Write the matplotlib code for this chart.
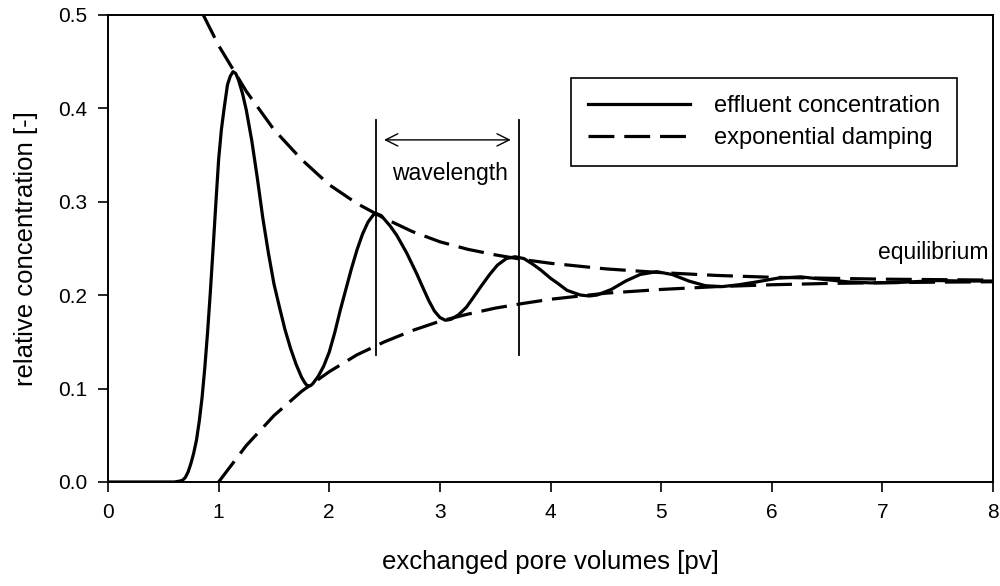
import numpy as np
import matplotlib.pyplot as plt

plt.rcParams['font.family'] = ['Liberation Sans', 'DejaVu Sans']

# effluent concentration
pv = [0.0, 0.30, 0.60, 0.65, 0.675, 0.70, 0.725, 0.75, 0.775, 0.80, 0.825, 0.85,
      0.875, 0.90, 0.925, 0.95, 0.975, 1.00, 1.025, 1.05, 1.08, 1.105,
      1.13, 1.155, 1.18, 1.215, 1.25, 1.30, 1.35, 1.40, 1.45, 1.50, 1.55, 1.60,
      1.65, 1.70, 1.75, 1.78, 1.80, 1.83, 1.85, 1.90, 1.95, 2.00, 2.05, 2.10,
      2.15, 2.20, 2.25, 2.30, 2.35, 2.40, 2.43, 2.47, 2.55, 2.61, 2.70, 2.79,
      2.85, 2.90, 2.95, 3.00, 3.05, 3.10, 3.17, 3.24, 3.30, 3.37, 3.45, 3.52,
      3.60, 3.68, 3.76, 3.84, 3.91, 4.00, 4.06, 4.15, 4.27, 4.35, 4.42, 4.55,
      4.68, 4.81, 4.96, 5.10, 5.25, 5.40, 5.55, 5.70, 5.86, 6.05, 6.26, 6.45,
      6.70, 6.90, 7.15, 7.50, 7.75, 8.00]
conc = [0.0, 0.0, 0.0, 0.001, 0.002, 0.005, 0.011, 0.02, 0.031, 0.045, 0.065, 0.09,
        0.122, 0.16, 0.203, 0.25, 0.298, 0.345, 0.377, 0.40, 0.425, 0.434,
        0.439, 0.437, 0.43, 0.416, 0.398, 0.365, 0.325, 0.282, 0.245, 0.212, 0.187, 0.163,
        0.143, 0.126, 0.112, 0.106, 0.103, 0.103, 0.105, 0.113, 0.124, 0.139, 0.160, 0.184,
        0.206, 0.228, 0.248, 0.265, 0.278, 0.286, 0.287, 0.285, 0.274, 0.264, 0.245, 0.223,
        0.207, 0.194, 0.183, 0.176, 0.173, 0.174, 0.179, 0.187, 0.197, 0.209, 0.222, 0.232,
        0.239, 0.241, 0.239, 0.233, 0.227, 0.218, 0.213, 0.205, 0.200, 0.199, 0.200, 0.206,
        0.215, 0.222, 0.225, 0.222, 0.215, 0.210, 0.209, 0.211, 0.214, 0.218, 0.2195, 0.217,
        0.214, 0.213, 0.2135, 0.2155, 0.215, 0.215]

# upper and lower exponential damping envelopes
upper_pv = [0.86, 1.0, 1.25, 1.5, 1.75, 2.0, 2.25, 2.5, 2.75, 3.0, 3.25, 3.5, 3.75,
            4.0, 4.5, 5.0, 5.5, 6.0, 6.5, 7.0, 7.5, 8.0]
upper_c = [0.5, 0.467, 0.418, 0.377, 0.345, 0.318, 0.298, 0.282, 0.268, 0.257, 0.249,
           0.243, 0.238, 0.234, 0.228, 0.224, 0.221, 0.219, 0.218, 0.217, 0.2165, 0.216]
lower_pv = [1.0, 1.25, 1.5, 1.75, 2.0, 2.25, 2.5, 2.75, 3.0, 3.25, 3.5, 3.75, 4.0,
            4.5, 5.0, 5.5, 6.0, 6.5, 7.0, 7.5, 8.0]
lower_c = [0.0, 0.039, 0.071, 0.097, 0.118, 0.136, 0.150, 0.162, 0.172, 0.1795, 0.186,
           0.191, 0.1955, 0.202, 0.206, 0.209, 0.211, 0.2124, 0.2132, 0.2138, 0.2142]

# wavelength markers
wave_x = [2.42, 3.716]
wave_lo, wave_hi = 0.136, 0.387

fig = plt.figure(figsize=(10, 5.86), dpi=100)
ax = fig.add_axes([0.108, 0.1775, 0.885, 0.7975])

ax.plot(pv, conc, color='black', lw=2.3, label='effluent concentration')
ax.plot(upper_pv, upper_c, color='black', lw=2.3, dashes=(8.1, 3.1),
        label='exponential damping')
ax.plot(lower_pv, lower_c, color='black', lw=2.3, dashes=(8.1, 3.1))

for wx in wave_x:
    ax.plot([wx, wx], [wave_lo, wave_hi], color='black', lw=1.3)
ax.annotate('', xy=(wave_x[0] + 0.05, 0.366), xytext=(wave_x[1] - 0.05, 0.366),
            arrowprops=dict(arrowstyle='<->', color='black', lw=1.0,
                            mutation_scale=22))
ax.text(3.09, 0.330, 'wavelength', ha='center', va='center', fontsize=16.5)
ax.text(7.96, 0.245, 'equilibrium', ha='right', va='center', fontsize=16.5)

ax.set_xlim(0, 8)
ax.set_ylim(0, 0.5)
ax.set_xticks(range(0, 9))
ax.set_yticks([0.0, 0.1, 0.2, 0.3, 0.4, 0.5])
ax.set_yticklabels(['0.0', '0.1', '0.2', '0.3', '0.4', '0.5'])
ax.tick_params(direction='out', length=7, width=1.2, labelsize=15, pad=8)
for sp in ax.spines.values():
    sp.set_linewidth(1.4)

ax.set_xlabel('exchanged pore volumes [pv]', fontsize=18.5, labelpad=20)
ax.set_ylabel('relative concentration [-]', fontsize=18.5, labelpad=14)

leg = ax.legend(loc='upper right', bbox_to_anchor=(0.959, 0.8645), borderaxespad=0,
                fontsize=17, frameon=True, fancybox=False, edgecolor='black',
                framealpha=1, handlelength=4.3, handletextpad=1.0, borderpad=0.72,
                labelspacing=0.42)
leg.get_frame().set_linewidth(1.2)

fig.savefig('out.png', dpi=100)
